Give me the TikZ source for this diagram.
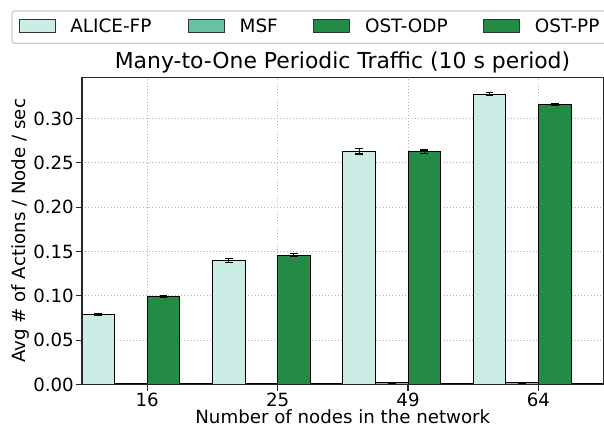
\documentclass[tikz,border=0pt]{standalone}
\usepackage{fontspec}
\setmainfont{DejaVu Sans}
\usetikzlibrary{positioning}
\definecolor{alicefp}{HTML}{CCECE6}
\definecolor{msfgreen}{HTML}{66C2A4}
\definecolor{ostgreen}{HTML}{238B45}
\definecolor{gridgray}{HTML}{B0B0B0}
\definecolor{legedge}{HTML}{CCCCCC}

\begin{document}
\begin{tikzpicture}[x=1pt,y=1pt,
  bar/.style={draw=black,line width=0.9pt},
  errbar/.style={draw=black,line width=1.1pt},
  gridline/.style={draw=gridgray,line width=1pt,dash pattern=on 1pt off 2.2pt},
  spine/.style={draw=black!85,line width=1.4pt,line cap=rect},
  tickmark/.style={draw=black!85,line width=1.3pt},
  ticklabel/.style={font=\fontsize{18.2}{18.2}\selectfont,inner sep=0pt},
  legpatch/.style={draw=black!80,line width=0.9pt,minimum width=36pt,minimum height=13pt,inner sep=0pt},
  legtext/.style={font=\fontsize{18.4}{18.4}\selectfont,inner sep=0pt}]
\useasboundingbox (0,0) rectangle (604,428);
% legend on top
\draw[legedge,line width=1.2pt,rounded corners=3pt,fill=white] (12,417) rectangle (614,384.7);
\node[legpatch,fill=alicefp] (patchA) at (37,402) {};
\node[legtext,right=14.7pt of patchA] (labA) {ALICE-FP};
\node[legpatch,fill=msfgreen] (patchM) at (206.3,402) {};
\node[legtext,right=14.7pt of patchM] (labM) {MSF};
\node[legpatch,fill=ostgreen] (patchO) at (331.7,402) {};
\node[legtext,right=14.7pt of patchO] (labO) {OST-ODP};
\node[legpatch,fill=ostgreen] (patchP) at (501.5,402) {};
\node[legtext,right=14.7pt of patchP] (labP) {OST-PP};
\node[font=\fontsize{21.9}{21.9}\selectfont,inner sep=0pt,anchor=base] (title) at (342.5,359.7)
  {Many-to-One Periodic Traffic (10 s period)};
% axes: one bar = 1 unit in x
\begin{scope}[shift={(82,43.5)},x=32.6pt,y=886.7pt]
\foreach \v in {0.05,0.1,0.15,0.2,0.25,0.3}{
  \draw[gridline] (0,\v) -- (16,\v);
}
\foreach \i in {0,...,3}{
  \draw[gridline] (4*\i+2,0) -- (4*\i+2,0.3465);
}
\foreach \i/\a/\ae/\m/\me/\o/\oe/\p/\pe in
  {0/0.0786/0.001/0.0008/0.0003/0.0990/0.001/0.0007/0.0003,
   1/0.1400/0.002/0.0008/0.0003/0.1460/0.0015/0.0007/0.0003,
   2/0.2630/0.003/0.0018/0.0004/0.2625/0.002/0.0009/0.0003,
   3/0.3275/0.0015/0.0018/0.0004/0.3160/0.0012/0.0009/0.0003}{
  \filldraw[bar,fill=alicefp] (4*\i,0) rectangle (4*\i+1,\a);
  \filldraw[bar,fill=msfgreen] (4*\i+1,0) rectangle (4*\i+2,\m);
  \filldraw[bar,fill=ostgreen] (4*\i+2,0) rectangle (4*\i+3,\o);
  \filldraw[bar,fill=ostgreen] (4*\i+3,0) rectangle (4*\i+4,\p);
  \foreach \k/\h/\e in {0/\a/\ae,1/\m/\me,2/\o/\oe,3/\p/\pe}{
    \draw[errbar] (4*\i+\k+0.5,{\h-\e}) -- (4*\i+\k+0.5,{\h+\e});
    \draw[errbar] (4*\i+\k+0.38,{\h-\e}) -- (4*\i+\k+0.62,{\h-\e});
    \draw[errbar] (4*\i+\k+0.38,{\h+\e}) -- (4*\i+\k+0.62,{\h+\e});
  }
}
\draw[spine] (0,0) -- (16,0) -- (16,0.3465) -- (0,0.3465) -- cycle;
\foreach \v/\t [count=\n] in {0/0.00,0.05/0.05,0.1/0.10,0.15/0.15,0.2/0.20,0.25/0.25,0.3/0.30}{
  \draw[tickmark] (0,\v) -- ++(-6pt,0);
  \node[ticklabel,anchor=east] (ytick\n) at ([xshift=-8pt]0,\v) {\t};
}
\foreach \i/\t in {0/16,1/25,2/49,3/64}{
  \draw[tickmark] (4*\i+2,0) -- ++(0,-6pt);
  \node[ticklabel,anchor=base] (xtick\t) at ([yshift=-22.2pt]4*\i+2,0) {\t};
}
\node[ticklabel,anchor=base] (xlabel) at ([yshift=-38.8pt]8,0) {Number of nodes in the network};
\node[ticklabel,rotate=90] (ylabel) at ([xshift=-62pt]0,0.1732) {Avg \# of Actions / Node / sec};
\end{scope}
\end{tikzpicture}
\end{document}
